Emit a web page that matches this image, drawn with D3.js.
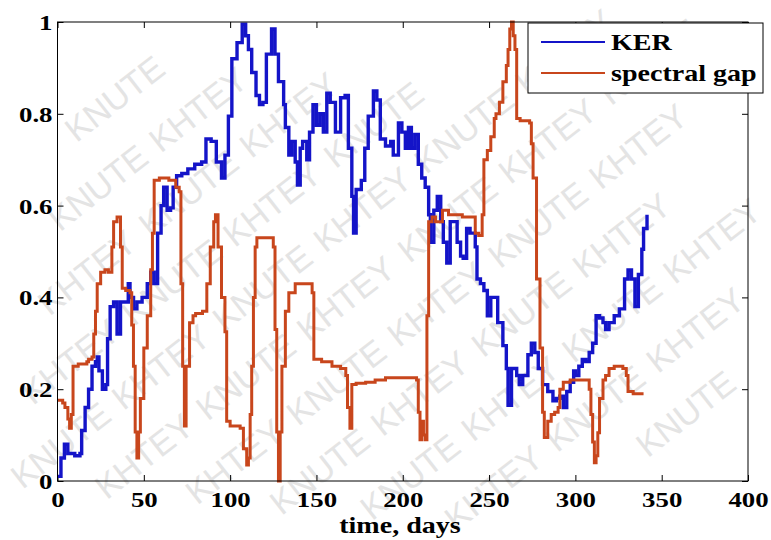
<!DOCTYPE html>
<html>
<head>
<meta charset="utf-8">
<script src="https://cdn.jsdelivr.net/npm/d3@7"></script>
<style>
  body { margin: 0; background: #fff; }
  svg { display: block; }
</style>
</head>
<body>
<svg id="chart" width="771" height="540"></svg>
<script>
// KER series (days, value)
const kerDays = [0, 2, 4, 6, 10, 13, 14, 16, 18, 20, 22, 23, 24, 26, 28, 29, 30.5, 32.5, 34.5, 36.5,
  39, 41, 42, 44, 46, 49, 52, 54, 56, 58, 60, 61.5, 63.5, 65.5, 67, 69, 72, 75.5, 79.5, 83.5,
  86, 89, 92, 95, 97, 99, 101, 104, 107, 109, 110.6, 112.5, 115, 117, 119, 121, 124, 126, 128, 131,
  132, 134, 135.7, 137.7, 139, 140.6, 142, 144.4, 146, 148, 150, 152, 154, 156, 158, 161, 164, 166.6, 168.5, 170.5,
  171.5, 173, 176, 178, 180, 183, 185, 187, 190, 193, 194.5, 197.5, 199.5, 201.5, 203.3, 205, 207, 209, 211, 213,
  215, 216, 218, 220, 222, 223.5, 225.5, 227.5, 229.5, 231.5, 233.5, 235, 237, 239, 242, 243, 245, 247, 249, 251,
  253, 255, 258, 260, 261, 263, 266, 267.5, 269.5, 272.5, 274.5, 276.5, 278.5, 281, 284, 287, 289, 291, 293, 295,
  297, 299, 300, 302, 304, 306, 308, 310, 312, 314, 316, 317.5, 319.5, 322.5, 325.5, 328.5, 330.5, 332.5, 334.5, 336.5,
  338.5, 339.5, 341.5];
const kerValues = [0.01, 0.05, 0.08, 0.06, 0.055, 0.06, 0.11, 0.16, 0.2, 0.25, 0.26, 0.27, 0.24, 0.2, 0.21, 0.31, 0.38, 0.39, 0.32, 0.39,
  0.39, 0.43, 0.4, 0.375, 0.39, 0.4, 0.43, 0.455, 0.43, 0.54, 0.6, 0.64, 0.59, 0.595, 0.64, 0.665, 0.67, 0.68, 0.69, 0.695,
  0.745, 0.74, 0.695, 0.66, 0.71, 0.795, 0.92, 0.955, 0.995, 0.97, 0.94, 0.89, 0.84, 0.82, 0.825, 0.93, 0.985, 0.93, 0.87, 0.82,
  0.77, 0.71, 0.74, 0.695, 0.645, 0.725, 0.74, 0.7, 0.76, 0.82, 0.775, 0.8, 0.76, 0.845, 0.825, 0.76, 0.835, 0.84, 0.725, 0.62,
  0.54, 0.635, 0.655, 0.725, 0.795, 0.85, 0.83, 0.745, 0.73, 0.74, 0.71, 0.78, 0.76, 0.725, 0.77, 0.725, 0.755, 0.69, 0.66, 0.64,
  0.58, 0.52, 0.59, 0.62, 0.565, 0.52, 0.475, 0.565, 0.565, 0.52, 0.49, 0.485, 0.55, 0.54, 0.51, 0.44, 0.43, 0.415, 0.36, 0.4,
  0.4, 0.345, 0.295, 0.245, 0.165, 0.245, 0.23, 0.21, 0.23, 0.275, 0.3, 0.28, 0.245, 0.21, 0.195, 0.175, 0.18, 0.185, 0.16, 0.195,
  0.215, 0.24, 0.23, 0.25, 0.265, 0.26, 0.28, 0.3, 0.36, 0.355, 0.345, 0.33, 0.345, 0.36, 0.375, 0.44, 0.46, 0.44, 0.38, 0.45,
  0.505, 0.55, 0.58];

// spectral gap series (days, value)
const gapDays = [0, 3, 4.3, 6, 7, 8, 9, 12, 17, 18, 20, 21, 22, 23, 25, 27.5, 29.5, 31.5, 32.5, 34.5,
  36.5, 37.5, 39.5, 42, 43, 44, 45, 46, 47, 48, 50, 52, 54, 55, 56, 59, 64.5, 68.5, 70.5, 71.5,
  72.5, 73.5, 74.5, 76.5, 78.5, 80, 84, 86.5, 88.5, 90.5, 91.5, 93, 95, 97, 98, 100, 104.7, 105.8, 107.7, 109.6,
  110.6, 111.6, 112.5, 113.5, 114.5, 115.5, 124, 125, 126, 127, 128, 129, 130, 132, 134, 137.7, 145.5, 147.5, 148.5, 153,
  159, 164, 167, 168, 169.4, 170.5, 173, 178.5, 184, 190, 207, 208, 209, 210, 211, 212, 213, 214, 215, 217,
  219, 223, 226.5, 230.5, 234.5, 238, 242, 244, 246, 247, 249, 251, 253, 254, 256, 258, 260, 261, 262, 263,
  264, 265, 266, 268, 273.5, 274.5, 275.5, 277.5, 279.5, 281, 282, 283, 284, 286, 288, 290, 291, 293, 297, 306,
  308, 309, 310, 311, 312, 313, 314, 316, 317.5, 319.5, 322.5, 327.5, 329.5, 330.5, 333.5, 339.5];
const gapValues = [0.176, 0.17, 0.16, 0.135, 0.115, 0.145, 0.25, 0.255, 0.26, 0.265, 0.27, 0.32, 0.37, 0.43, 0.455, 0.46, 0.455, 0.51, 0.565, 0.575,
  0.51, 0.42, 0.415, 0.41, 0.34, 0.25, 0.107, 0.05, 0.107, 0.18, 0.29, 0.36, 0.46, 0.54, 0.655, 0.66, 0.655, 0.64, 0.63, 0.43,
  0.25, 0.12, 0.25, 0.345, 0.36, 0.365, 0.37, 0.43, 0.51, 0.565, 0.58, 0.51, 0.4, 0.325, 0.13, 0.12, 0.12, 0.115, 0.07, 0.035,
  0.05, 0.145, 0.25, 0.4, 0.51, 0.53, 0.53, 0.51, 0.33, 0.107, 0.0, 0.107, 0.25, 0.37, 0.41, 0.43, 0.43, 0.41, 0.265, 0.26,
  0.25, 0.245, 0.23, 0.16, 0.115, 0.21, 0.213, 0.215, 0.22, 0.225, 0.225, 0.22, 0.15, 0.09, 0.13, 0.1, 0.09, 0.36, 0.565, 0.575,
  0.565, 0.59, 0.58, 0.58, 0.575, 0.575, 0.54, 0.535, 0.58, 0.7, 0.72, 0.75, 0.79, 0.8, 0.825, 0.87, 0.905, 0.94, 0.985, 1.0,
  0.97, 0.94, 0.79, 0.785, 0.78, 0.735, 0.66, 0.44, 0.29, 0.15, 0.095, 0.095, 0.13, 0.145, 0.15, 0.16, 0.2, 0.215, 0.22, 0.22,
  0.2, 0.145, 0.085, 0.04, 0.055, 0.105, 0.18, 0.22, 0.23, 0.245, 0.25, 0.245, 0.23, 0.195, 0.19, 0.19];

const xTicks = [0, 50, 100, 150, 200, 250, 300, 350, 400];
const yTicks = [0, 0.2, 0.4, 0.6, 0.8, 1];
const seriesNames = ["KER", "spectral gap"];
const seriesColors = ["#1414c8", "#c8461c"];
const watermarkWords = ["KHTEY", "KNUTE"];

const svg = d3.select("#chart");
const W = 771, H = 540;
const mLeft = 57.5, mRight = 748, mTop = 22, mBottom = 481;
const stretch = 1.22; // the picture's text is horizontally wide
const serif = "'Liberation Serif', 'Times New Roman', Times, serif";

// watermark: one text per word, keep only words that sit fully inside the picture
const wm = svg.append("g")
    .attr("transform", `rotate(-38, ${W / 2}, ${H / 2})`)
    .attr("fill", "#e4e4e4")
    .style("font-family", "'Liberation Sans', Arial, sans-serif")
    .style("font-size", "34px");
for (let r = 0; r < 18; r++) {
    for (let c = 0; c < 12; c++) {
        wm.append("text")
            .attr("x", -420 + (r % 2) * 60 + c * 128)
            .attr("y", -260 + r * 60)
            .text(watermarkWords[(c + r) % 2]);
    }
}
wm.selectAll("text").each(function () {
    const b = this.getBoundingClientRect();
    if (b.left < 1 || b.top < 1 || b.right > W - 1 || b.bottom > H - 1) this.remove();
});

const x = d3.scaleLinear().domain([0, 400]).range([mLeft, mRight]);
const y = d3.scaleLinear().domain([0, 1]).range([mBottom, mTop]);

// axes with inward ticks
const axB = svg.append("g").attr("transform", `translate(0,${mBottom})`)
    .call(d3.axisBottom(x).tickValues(xTicks).tickSize(-6).tickSizeOuter(0).tickFormat(d3.format("d")));
const axT = svg.append("g").attr("transform", `translate(0,${mTop})`)
    .call(d3.axisTop(x).tickValues(xTicks).tickSize(-6).tickSizeOuter(0).tickFormat(""));
const axL = svg.append("g").attr("transform", `translate(${mLeft},0)`)
    .call(d3.axisLeft(y).tickValues(yTicks).tickSize(-6).tickSizeOuter(0).tickFormat(d => d === 0 || d === 1 ? d3.format("d")(d) : d3.format(".1f")(d)));
const axR = svg.append("g").attr("transform", `translate(${mRight},0)`)
    .call(d3.axisRight(y).tickValues(yTicks).tickSize(-6).tickSizeOuter(0).tickFormat(""));

[axB, axT, axL, axR].forEach(a => {
    a.select(".domain").remove();
    a.selectAll(".tick line").attr("stroke", "#000").attr("stroke-width", 1);
});

axB.selectAll(".tick text")
    .attr("y", 26).attr("dy", 0)
    .attr("transform", `scale(${stretch},1)`)
    .attr("fill", "#000")
    .style("font-family", serif).style("font-weight", "bold").style("font-size", "22px");
axL.selectAll(".tick text")
    .attr("x", -5 / stretch).attr("dy", "0.34em")
    .attr("transform", `scale(${stretch},1)`)
    .attr("fill", "#000")
    .style("font-family", serif).style("font-weight", "bold").style("font-size", "22px");

// data lines
const line = d3.line()
    .x(d => x(d[0]))
    .y(d => y(d[1]))
    .curve(d3.curveStepAfter);

const series = [d3.zip(kerDays, kerValues), d3.zip(gapDays, gapValues)];

series.forEach((s, i) => {
    svg.append("path")
        .datum(s)
        .attr("fill", "none")
        .attr("stroke", seriesColors[i])
        .attr("stroke-width", i === 0 ? 3.4 : 3)
        .attr("d", line);
});

// plot box
svg.append("rect")
    .attr("x", mLeft).attr("y", mTop)
    .attr("width", mRight - mLeft).attr("height", mBottom - mTop)
    .attr("fill", "none").attr("stroke", "#000").attr("stroke-width", 1);

// x label
svg.append("text")
    .attr("x", 400 / stretch).attr("y", 533)
    .attr("transform", `scale(${stretch},1)`)
    .attr("text-anchor", "middle")
    .style("font-family", serif).style("font-weight", "bold").style("font-size", "23px")
    .text("time, days");

// legend
const lg = svg.append("g");
lg.append("rect")
    .attr("x", 528).attr("y", 23).attr("width", 235).attr("height", 70)
    .attr("fill", "#fff").attr("stroke", "#000").attr("stroke-width", 1);

const items = lg.selectAll(".item")
    .data(seriesNames)
    .join("g")
    .attr("transform", (d, i) => `translate(0,${42 + i * 31})`);

items.append("line")
    .attr("x1", 541).attr("x2", 605)
    .attr("stroke", (d, i) => seriesColors[i])
    .attr("stroke-width", 2);

items.append("text")
    .attr("x", 611 / stretch).attr("y", 8)
    .attr("transform", `scale(${stretch},1)`)
    .style("font-family", serif).style("font-weight", "bold").style("font-size", "23px")
    .text(d => d);
</script>
</body>
</html>
